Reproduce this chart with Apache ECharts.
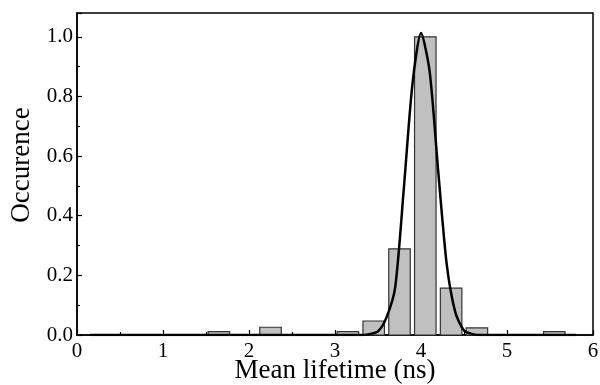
<!DOCTYPE html>
<html>
<head>
<meta charset="utf-8">
<script src="https://cdn.jsdelivr.net/npm/echarts@6/dist/echarts.min.js"></script>
<style>html,body{margin:0;padding:0;background:#fff}#c{width:600px;height:385px}</style>
</head>
<body>
<div id="c"></div>
<script>
// Histogram bin centers (ns) and occurrence values
var binCenters = [1.65, 2.25, 3.15, 3.45, 3.75, 4.05, 4.35, 4.65, 5.55];
var binValues  = [0.011, 0.026, 0.011, 0.047, 0.289, 1.0, 0.157, 0.024, 0.011];
var binWidth = 0.25;
// Fit curve points
var fitX = [0.15, 3.3, 3.4, 3.5, 3.6, 3.7, 3.8, 3.9, 4.0, 4.1, 4.2, 4.3, 4.4, 4.5, 4.6, 4.7, 5.8];
var fitY = [0.0, 0.0, 0.003, 0.012, 0.06, 0.16, 0.49, 0.84, 1.013, 0.885, 0.55, 0.235, 0.075, 0.015, 0.003, 0.0, 0.0];
var xTicks = [0, 1, 2, 3, 4, 5, 6];
var yTicks = [0.0, 0.2, 0.4, 0.6, 0.8, 1.0];

var chart = echarts.init(document.getElementById('c'), null, {renderer: 'canvas'});
var font = 'Liberation Serif';
var barData = binCenters.map(function (c, i) { return [c, binValues[i]]; });
var fitData = fitX.map(function (x, i) { return [x, fitY[i]]; });

chart.setOption({
  animation: false,
  backgroundColor: '#fff',
  grid: {left: 77, right: 7, top: 13, bottom: 50, containLabel: false, outerBoundsMode: 'none',
    show: true, borderColor: '#000', borderWidth: 1.5, backgroundColor: 'transparent'},
  xAxis: {
    type: 'value', min: xTicks[0], max: xTicks[xTicks.length - 1], interval: 1,
    name: 'Mean lifetime (ns)', nameLocation: 'middle', nameGap: 22, nameMoveOverlap: false,
    nameTextStyle: {fontFamily: font, fontSize: 27, color: '#000'},
    axisLine: {show: true, lineStyle: {color: '#000', width: 1.5}},
    axisTick: {show: true, inside: true, length: 5, lineStyle: {color: '#000', width: 1.2}},
    minorTick: {show: true, splitNumber: 2, length: 3, lineStyle: {color: '#000', width: 1.2}},
    axisLabel: {fontFamily: font, fontSize: 21, color: '#000', margin: 6},
    splitLine: {show: false}
  },
  yAxis: {
    type: 'value', min: 0, max: 1.08, interval: 0.2,
    name: 'Occurence', nameLocation: 'middle', nameGap: 42, nameMoveOverlap: false,
    nameTextStyle: {fontFamily: font, fontSize: 27, color: '#000', padding: [0, 0, 0, 18]},
    axisLine: {show: true, lineStyle: {color: '#000', width: 1.5}},
    axisTick: {show: true, inside: true, length: 5, lineStyle: {color: '#000', width: 1.2}},
    minorTick: {show: true, splitNumber: 2, length: 3, lineStyle: {color: '#000', width: 1.2}},
    axisLabel: {fontFamily: font, fontSize: 21, color: '#000', margin: 4, showMaxLabel: false,
      formatter: function (v) { return v > 1.001 ? '' : v.toFixed(1); }},
    splitLine: {show: false}
  },
  series: [
    {
      type: 'custom',
      data: barData,
      renderItem: function (params, api) {
        var x = api.value(0), y = api.value(1);
        var p0 = api.coord([x - binWidth / 2, 0]);
        var p1 = api.coord([x + binWidth / 2, y]);
        return {
          type: 'rect',
          shape: {x: p0[0], y: p1[1], width: p1[0] - p0[0], height: p0[1] - p1[1]},
          style: {fill: '#c0c0c0', stroke: '#333', lineWidth: 1.2}
        };
      },
      encode: {x: 0, y: 1},
      z: 2
    },
    {
      type: 'line',
      data: fitData,
      showSymbol: false,
      smooth: 0.25,
      lineStyle: {color: '#000', width: 2.5},
      z: 3
    }
  ]
});
</script>
</body>
</html>
